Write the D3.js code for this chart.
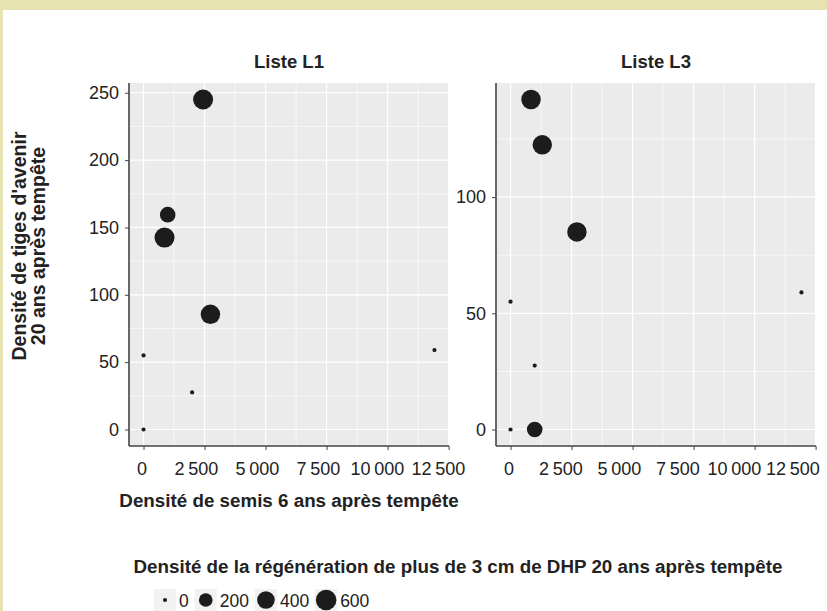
<!DOCTYPE html>
<html>
<head>
<meta charset="utf-8">
<script src="https://cdn.jsdelivr.net/npm/d3@7"></script>
<style>
  body { margin: 0; background: #fff; }
  text { font-family: "Liberation Sans", Arial, sans-serif; }
</style>
</head>
<body>
<div id="chart"></div>
<script>
// semis 6 ans (x), tiges d'avenir 20 ans (y), régénération > 3 cm DHP (size)
const l1Semis = [2440, 990, 860, 2740, 0, 1990, 0, 11920]
const l1Tiges = [245, 159.5, 142.5, 85.5, 55, 27.5, 0, 59]
const l1Regen = [560, 290, 560, 520, 0, 0, 0, 0]

const l3Semis = [840, 1300, 2720, 0, 11920, 990, 0, 990]
const l3Tiges = [142, 122.5, 85, 55, 59, 27.5, 0, 0]
const l3Regen = [520, 520, 520, 0, 0, 0, 0, 290]

const xTicks = [0, 2500, 5000, 7500, 10000, 12500]
const l1YTicks = [0, 50, 100, 150, 200, 250]
const l3YTicks = [0, 50, 100]
const legendValues = [0, 200, 400, 600]

const panels = [
  { title: "Liste L1", x: l1Semis, y: l1Tiges, r: l1Regen, yTicks: l1YTicks, left: 129, squeeze: 0 },
  { title: "Liste L3", x: l3Semis, y: l3Tiges, r: l3Regen, yTicks: l3YTicks, left: 496, squeeze: 2.5 }
]

const width = 827
const height = 611
const panelW = 320
const panelTop = 83
const panelBottom = 446
const ink = "#222"

const svg = d3.select("#chart").append("svg")
  .attr("width", width)
  .attr("height", height)

// frame
svg.append("rect").attr("width", width).attr("height", height).attr("fill", "#fff")
svg.append("rect").attr("width", width).attr("height", 10).attr("fill", "#e6e3b0")
svg.append("rect").attr("width", 3).attr("height", height).attr("fill", "#e6e3b0")

const expand = function(lo, hi) {
  const pad = (hi - lo) * 0.05
  return [lo - pad, hi + pad]
}

const allX = l1Semis.concat(l3Semis)
const xDomain = expand(d3.min(allX), d3.max(allX))

const size = d3.scaleSqrt().domain([0, 600]).range([2.1, 10.3])

const fr = d3.formatLocale({ decimal: ",", thousands: "\u2009", grouping: [3], currency: ["", " €"] })
const fmt = fr.format(",d")

const mid = arr => arr.slice(1).map((d, i) => (d + arr[i]) / 2)

panels.forEach(p => {
  const xScale = d3.scaleLinear().domain(xDomain).range([p.left, p.left + panelW])
  const yScale = d3.scaleLinear().domain(expand(d3.min(p.y), d3.max(p.y))).range([panelBottom, panelTop])

  const g = svg.append("g")

  g.append("rect")
    .attr("x", p.left).attr("y", panelTop)
    .attr("width", panelW).attr("height", panelBottom - panelTop)
    .attr("fill", "#ebebeb")

  // minor grid
  const xMinor = mid(xTicks)
  const yMinor = mid(p.yTicks).concat([p.yTicks[p.yTicks.length - 1] + 25])
    .filter(v => yScale(v) > panelTop)
  g.selectAll(".xminor").data(xMinor).enter().append("line")
    .attr("x1", d => xScale(d)).attr("x2", d => xScale(d))
    .attr("y1", panelTop).attr("y2", panelBottom)
    .attr("stroke", "#fff").attr("stroke-width", 0.6)
  g.selectAll(".yminor").data(yMinor).enter().append("line")
    .attr("y1", d => yScale(d)).attr("y2", d => yScale(d))
    .attr("x1", p.left).attr("x2", p.left + panelW)
    .attr("stroke", "#fff").attr("stroke-width", 0.6)

  // major grid
  g.selectAll(".xmajor").data(xTicks).enter().append("line")
    .attr("x1", d => xScale(d)).attr("x2", d => xScale(d))
    .attr("y1", panelTop).attr("y2", panelBottom)
    .attr("stroke", "#fff").attr("stroke-width", 1.2)
  g.selectAll(".ymajor").data(p.yTicks).enter().append("line")
    .attr("y1", d => yScale(d)).attr("y2", d => yScale(d))
    .attr("x1", p.left).attr("x2", p.left + panelW)
    .attr("stroke", "#fff").attr("stroke-width", 1.2)

  // axes
  const xAxis = d3.axisBottom(xScale).tickValues(xTicks).tickFormat(fmt).tickSize(4).tickPadding(12).tickSizeOuter(0)
  const gx = g.append("g").attr("transform", "translate(0," + panelBottom + ")").call(xAxis)
  const yAxis = d3.axisLeft(yScale).tickValues(p.yTicks).tickSize(4).tickPadding(6).tickSizeOuter(0)
  const gy = g.append("g").attr("transform", "translate(" + p.left + ",0)").call(yAxis)

  ;[gx, gy].forEach(a => {
    a.select(".domain").remove()
    a.selectAll(".tick line").attr("stroke", "#444").attr("stroke-width", 1)
    a.selectAll(".tick text").attr("font-size", 18).attr("fill", ink)
      .attr("font-family", "'Liberation Sans', Arial, sans-serif")
  })
  // labels sit a bit left of their tick (hjust ~0.7); L3 pulled in so the last one fits
  gx.selectAll(".tick text").attr("dx", function(d, i) {
    return -0.2 * this.getComputedTextLength() - p.squeeze * i
  })

  g.append("line")
    .attr("x1", p.left).attr("x2", p.left)
    .attr("y1", panelTop).attr("y2", panelBottom)
    .attr("stroke", "#444").attr("stroke-width", 1.6)
  g.append("line")
    .attr("x1", p.left).attr("x2", p.left + panelW)
    .attr("y1", panelBottom).attr("y2", panelBottom)
    .attr("stroke", "#444").attr("stroke-width", 1.6)

  // points
  const pts = p.x.map((d, i) => ({ x: d, y: p.y[i], r: p.r[i] }))
  g.selectAll("circle").data(pts).enter().append("circle")
    .attr("cx", d => xScale(d.x))
    .attr("cy", d => yScale(d.y))
    .attr("r", d => size(d.r))
    .attr("fill", "#1c1c1c")

  g.append("text")
    .text(p.title)
    .attr("x", p.left + panelW / 2)
    .attr("y", 68)
    .attr("text-anchor", "middle")
    .attr("font-size", 18.5)
    .attr("font-weight", "bold")
    .attr("fill", ink)
})

// axis titles
svg.append("text")
  .text("Densité de semis 6 ans après tempête")
  .attr("x", 129 + panelW / 2)
  .attr("y", 507)
  .attr("text-anchor", "middle")
  .attr("font-size", 18.8)
  .attr("font-weight", "bold")
  .attr("fill", ink)

const yTitle = svg.append("text")
  .attr("transform", "translate(0,246)rotate(-90)")
  .attr("text-anchor", "middle")
  .attr("font-size", 19.5)
  .attr("font-weight", "bold")
  .attr("fill", ink)
yTitle.append("tspan").attr("x", 0).attr("y", 26).text("Densité de tiges d'avenir")
yTitle.append("tspan").attr("x", 0).attr("y", 45).text("20 ans après tempête")

// legend
svg.append("text")
  .text("Densité de la régénération de plus de 3 cm de DHP 20 ans après tempête")
  .attr("x", 458)
  .attr("y", 573)
  .attr("text-anchor", "middle")
  .attr("font-size", 18.8)
  .attr("font-weight", "bold")
  .attr("fill", ink)

const keyW = 22
const legend = svg.append("g").attr("transform", "translate(154,600)")
let cursor = 0
legendValues.forEach(v => {
  const key = legend.append("g").attr("transform", "translate(" + (cursor + keyW / 2) + ",0)")
  key.append("rect")
    .attr("x", -keyW / 2).attr("y", -keyW / 2)
    .attr("width", keyW).attr("height", keyW)
    .attr("fill", "#f2f2f2")
  key.append("circle").attr("r", size(v)).attr("fill", "#1c1c1c")
  const label = legend.append("text")
    .text(v)
    .attr("x", cursor + keyW + 3)
    .attr("y", 6.5)
    .attr("font-size", 17.5)
    .attr("fill", ink)
  cursor += keyW + 3 + label.node().getComputedTextLength() + 6
})
</script>
</body>
</html>
